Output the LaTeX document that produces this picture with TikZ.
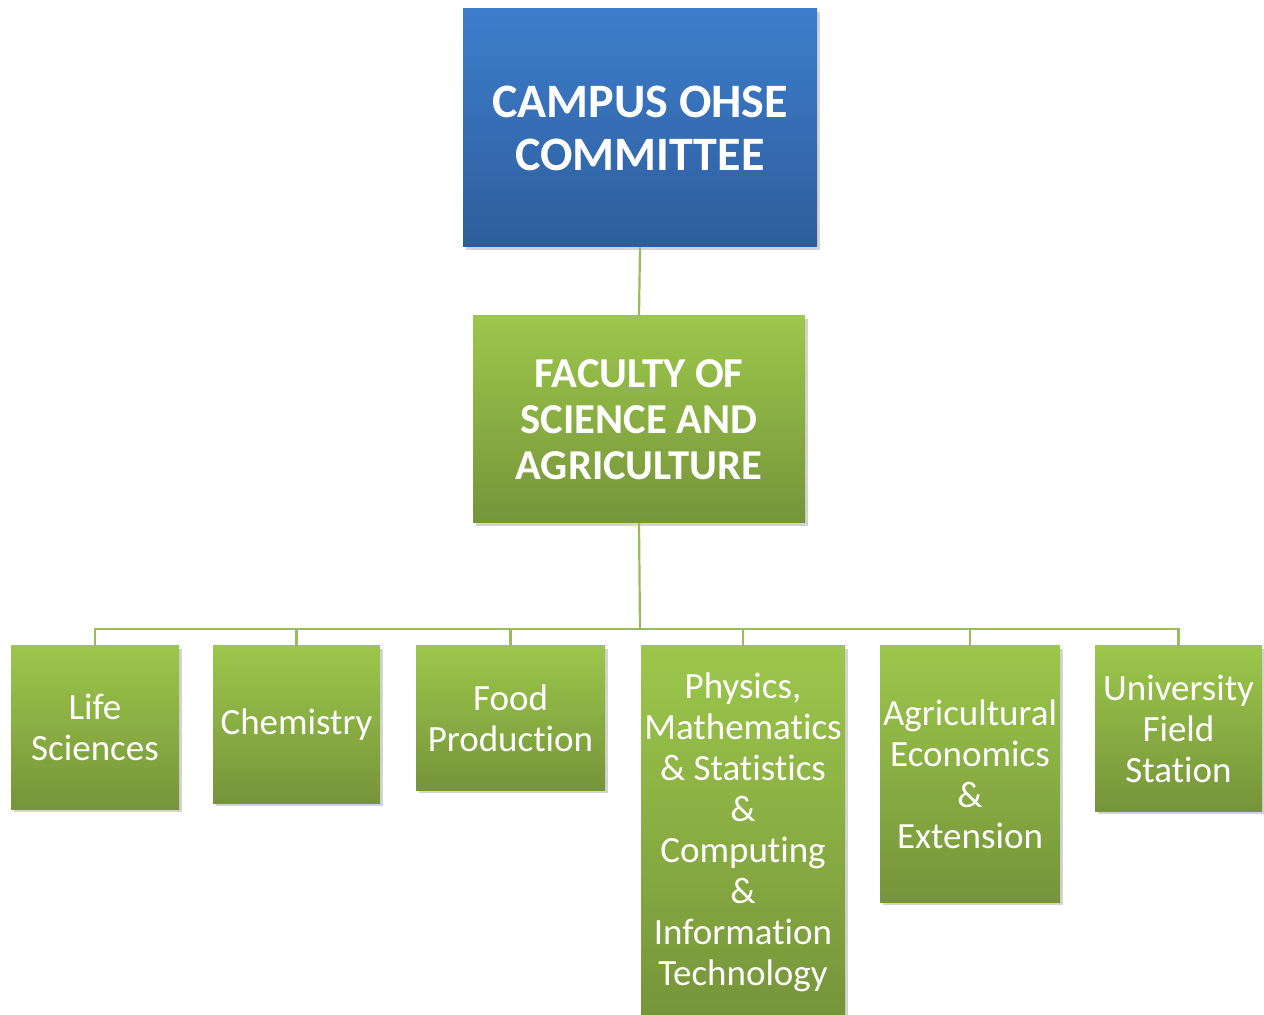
\documentclass[tikz,border=0pt]{standalone}
\usepackage{fontspec}
\setmainfont[Ligatures=NoCommon]{Carlito}
\usepackage{xcolor}
\usepackage{tikz}
\usetikzlibrary{shadows}

\definecolor{bluetop}{HTML}{3D7ECC}
\definecolor{bluebot}{HTML}{2E5D9C}
\definecolor{greentop}{HTML}{9CC74B}
\definecolor{greenbot}{HTML}{76943A}
\definecolor{linkgreen}{HTML}{9BBB59}

\tikzset{
  box/.style={inner sep=0pt, text=white, align=center,
    drop shadow={opacity=0.35, shadow xshift=1.5pt, shadow yshift=-1.5pt}},
  topbox/.style={box, top color=bluetop, bottom color=bluebot,
    font=\fontsize{24}{26.5}\selectfont\bfseries},
  facbox/.style={box, top color=greentop, bottom color=greenbot,
    font=\fontsize{21.3}{23}\selectfont\bfseries},
  deptbox/.style={box, top color=greentop, bottom color=greenbot,
    font=\fontsize{18.5}{20.5}\selectfont},
  link/.style={draw=linkgreen, line width=1.1pt}
}

\begin{document}
\begin{tikzpicture}[x=0.5pt, y=-0.5pt]
  \useasboundingbox (0,0) rectangle (1264,1015);

  % Committee and faculty
  \node[topbox, minimum width=177pt, minimum height=119pt] (ohse) at (640,128)
    {CAMPUS OHSE\\COMMITTEE};
  \node[facbox, minimum width=166pt, minimum height=103.5pt] (fac) at (639,419.5)
    {FACULTY OF\\SCIENCE AND\\AGRICULTURE};

  % Departments
  \node[deptbox, minimum width=84pt, minimum height=81.5pt] (life) at (95,727.5)
    {Life\\Sciences};
  \node[deptbox, minimum width=83.5pt, minimum height=78.5pt] (chem) at (296.5,724.5)
    {Chemistry};
  \node[deptbox, minimum width=94.5pt, minimum height=72pt] (food) at (510.5,718)
    {Food\\Production};
  \node[deptbox, minimum width=102pt, minimum height=186pt] (phys) at (743,832)
    {Physics,\\Mathematics\\\& Statistics\\\&\\Computing\\\&\\Information\\Technology};
  \node[deptbox, minimum width=90pt, minimum height=128pt] (agri) at (970,774)
    {Agricultural\\Economics\\\&\\Extension};
  \node[deptbox, minimum width=83.5pt, minimum height=82.5pt] (field) at (1178.5,728.5)
    {University\\Field\\Station};

  % Connectors
  \draw[link] (ohse.south) -- (fac.north);
  \coordinate (bus) at (640,629);
  \draw[link] (fac.south) -- (bus);
  \foreach \d in {life,chem,food,phys,agri,field}
    \draw[link] (bus) -| (\d.north);
\end{tikzpicture}
\end{document}
